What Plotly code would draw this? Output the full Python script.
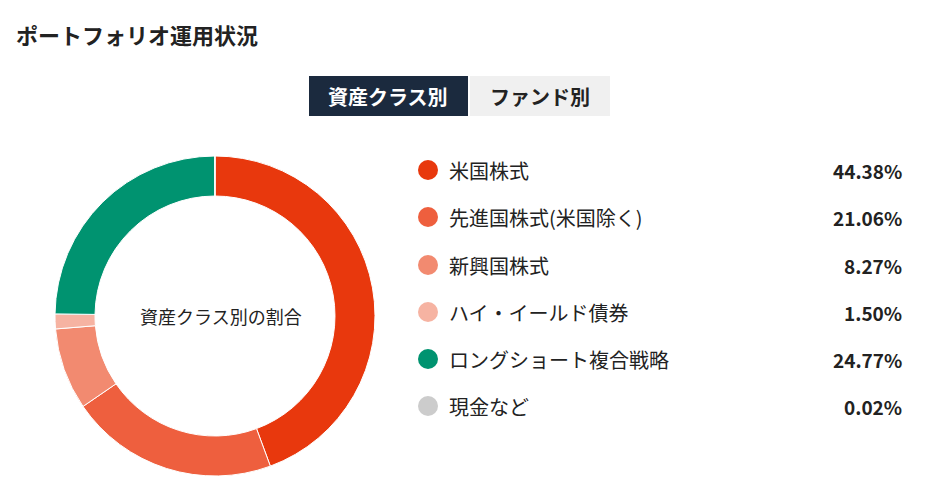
import plotly.graph_objects as go

W, H = 943, 497
labels = ["米国株式", "先進国株式(米国除く)", "新興国株式", "ハイ・イールド債券", "ロングショート複合戦略", "現金など"]
values = [44.38, 21.06, 8.27, 1.50, 24.77, 0.02]
colors = ["#E8380D", "#EE5F3E", "#F28A70", "#F6B3A2", "#009370", "#CCCCCC"]
FONT = "Noto Sans CJK JP"
OFF = 8  # page offset compensation

def px(x):
    return (x - OFF) / W

def py(y):
    return 1 - (y - OFF) / H

fig = go.Figure(go.Pie(
    labels=labels, values=values, hole=0.75, sort=False,
    direction="clockwise", rotation=0,
    marker=dict(colors=colors, line=dict(color="white", width=1)),
    textinfo="none", hoverinfo="label+percent", showlegend=False,
    domain=dict(x=[px(55), px(375)], y=[py(476), py(156)]),
))

shapes = [
    dict(type="rect", xref="paper", yref="paper", x0=px(309), x1=px(468), y0=py(116), y1=py(76),
         fillcolor="#1B2A3E", line=dict(width=0), layer="below"),
    dict(type="rect", xref="paper", yref="paper", x0=px(470), x1=px(610), y0=py(116), y1=py(76),
         fillcolor="#F0F0F0", line=dict(width=0), layer="below"),
]
annotations = [
    dict(text="<b>ポートフォリオ運用状況</b>", x=px(14), y=py(34), xanchor="left", yanchor="middle",
         font=dict(size=22, color="#222")),
    dict(text="<b>資産クラス別</b>", x=px(388), y=py(96), xanchor="center", yanchor="middle",
         font=dict(size=20, color="white")),
    dict(text="<b>ファンド別</b>", x=px(540), y=py(96), xanchor="center", yanchor="middle",
         font=dict(size=20, color="#222")),
    dict(text="資産クラス別の割合", x=px(221), y=py(316), xanchor="center", yanchor="middle",
         font=dict(size=18, color="#222")),
]
row_y = [170, 217, 265, 312, 359, 406]
for lab, val, col, y in zip(labels, values, colors, row_y):
    shapes.append(dict(type="circle", xref="paper", yref="paper",
                       x0=px(418), x1=px(438), y0=py(y + 10), y1=py(y - 10),
                       fillcolor=col, line=dict(width=0)))
    annotations.append(dict(text=lab, x=px(447), y=py(y), xanchor="left", yanchor="middle",
                            font=dict(size=20, color="#222")))
    annotations.append(dict(text=f"<b>{val:.2f}%</b>", x=px(904), y=py(y), xanchor="right",
                            yanchor="middle", font=dict(size=19, color="#222")))
for a in annotations:
    a.update(xref="paper", yref="paper", showarrow=False)

fig.update_layout(
    width=W, height=H, margin=dict(l=0, r=0, t=0, b=0),
    paper_bgcolor="white", plot_bgcolor="white",
    font=dict(family=FONT), shapes=shapes, annotations=annotations,
)
fig.write_html("out.html")
